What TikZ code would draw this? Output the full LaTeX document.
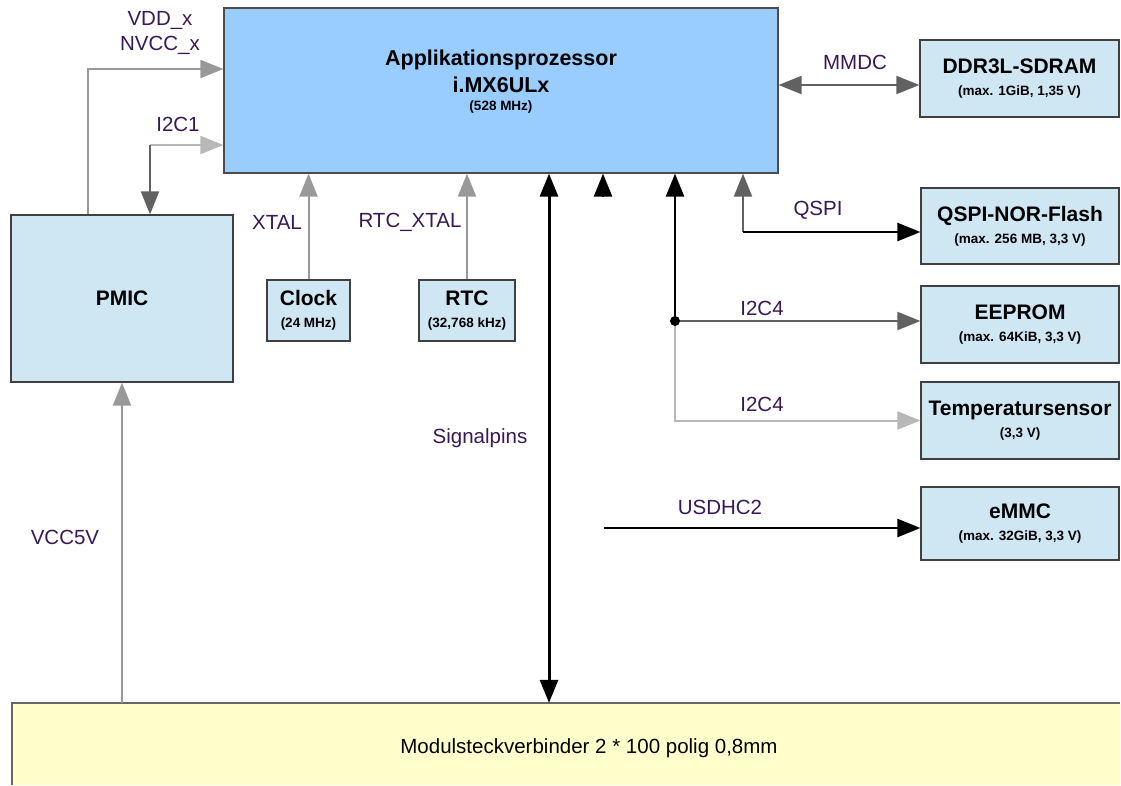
\documentclass[tikz,border=0pt]{standalone}
\usepackage{fontspec}
\setmainfont{Liberation Sans}
\usetikzlibrary{arrows.meta,positioning,calc}
\definecolor{procblau}{HTML}{99CCFF}
\definecolor{boxblau}{HTML}{CFE6F3}
\definecolor{steckgelb}{HTML}{FFFFCC}
\definecolor{beschr}{RGB}{55,25,85}
\newcommand{\unter}[1]{{\fontsize{13.5}{15}\selectfont #1}}

\begin{document}
\begin{tikzpicture}[x=1pt,y=-1pt,
  >={Triangle[length=23pt,width=18pt]},
  block/.style={draw=black!75, line width=1.2pt, fill=boxblau, align=center, inner sep=0pt,
    font=\fontsize{21}{22}\selectfont\bfseries},
  titel/.style={align=center, inner sep=0pt, font=\fontsize{21.5}{23}\selectfont\bfseries},
  bez/.style={text=beschr, inner sep=0pt, align=center, font=\fontsize{20.5}{25}\selectfont},
  grau/.style={draw=black!40, line width=2pt},
  hell/.style={draw=black!28, line width=2pt},
  mittel/.style={draw=black!62, line width=2pt},
  schwarz/.style={draw=black, line width=2.5pt}]
\useasboundingbox (0,0) rectangle (1121,785);

% Prozessor und Bausteine
\node[block, fill=procblau, draw=black!70, minimum width=554, minimum height=165] (proc) at (501,90.5) {};
\node[titel] (proctitel) at (501,82) {Applikationsprozessor\\[4pt]i.MX6ULx\\[-5pt]\unter{(528 MHz)}};
\node[block, minimum width=222, minimum height=167] (pmic) at (122,298.5) {PMIC};
\node[block, minimum width=83, minimum height=61] (clock) at (308.5,310.5) {Clock\\\unter{(24 MHz)}};
\node[block, minimum width=96, minimum height=61] (rtc) at (467,310.5) {RTC\\\unter{(32,768 kHz)}};
\node[block, minimum width=199, minimum height=77] (ddr) at (1019.5,78.5) {DDR3L-SDRAM\\\unter{(max. 1GiB, 1,35 V)}};
\node[block, minimum width=198, minimum height=76] (qspi) at (1020,226) {QSPI-NOR-Flash\\\unter{(max. 256 MB, 3,3 V)}};
\node[block, minimum width=198, minimum height=77] (eeprom) at (1020,324.5) {EEPROM\\\unter{(max. 64KiB, 3,3 V)}};
\node[block, minimum width=198, minimum height=77] (temp) at (1020,420.5) {Temperatursensor\\\unter{(3,3 V)}};
\node[block, minimum width=198, minimum height=73] (emmc) at (1020,523.5) {eMMC\\\unter{(max. 32GiB, 3,3 V)}};

% Steckverbinder
\node[fill=steckgelb, minimum width=1108, minimum height=82, inner sep=0pt] (conn) at (566,744) {};
\draw[draw=black!60, line width=1.5pt] (conn.south west) |- (conn.north east);
\node[inner sep=0pt, font=\fontsize{20.5}{22}\selectfont] (conntxt) at (589,748) {Modulsteckverbinder 2 * 100 polig 0,8mm};

% Versorgung
\draw[grau, ->] (pmic.north -| 88,0) |- (proc.west |- 0,69);
\node[bez] (vdd) at (160,33) {VDD\_x\\NVCC\_x};
\draw[grau, ->] (conn.north -| pmic.south) -- (pmic.south);
\node[bez] (vcc) at (65,537) {VCC5V};

% I2C1
\coordinate (i2ceins) at (150,145);
\draw[hell, ->] (i2ceins) -- (proc.west |- i2ceins);
\draw[mittel, ->] (i2ceins) -- (pmic.north -| i2ceins);
\node[bez] (i2c1) at (178,124) {I2C1};

% Takt
\draw[grau, ->] (clock.north) -- (clock.north |- proc.south);
\node[bez] (xtal) at (277,222) {XTAL};
\draw[grau, ->] (rtc.north) -- (rtc.north |- proc.south);
\node[bez] (rtcxtal) at (410,222) {RTC\_XTAL};

% Signalpins
\draw[schwarz, line width=3pt, <->] ([xshift=48pt]proc.south) -- ([xshift=48pt]proc.south |- conn.north);
\node[bez] (sig) at (480,438) {Signalpins};

% USDHC2
\coordinate (sdkopf) at (603,197);
\draw[schwarz, ->] (sdkopf) -- (proc.south -| sdkopf);
\coordinate (sdstart) at (604,528);
\draw[schwarz, ->] (sdstart) -- (emmc.west |- sdstart);
\node[bez] (usdhc) at (720,507) {USDHC2};

% I2C4
\coordinate (knoten) at (675,321);
\draw[schwarz, ->] (knoten) -- (knoten |- proc.south);
\draw[mittel, ->] (knoten) -- (eeprom.west |- knoten);
\draw[hell, ->] (knoten) |- (temp.west);
\fill (knoten) circle (5);
\node[bez] (i2cvier) at (762,308) {I2C4};
\node[bez] (i2cvierb) at (762,404) {I2C4};

% QSPI
\coordinate (qs) at (743,232);
\draw[mittel, ->] (qs) -- (qs |- proc.south);
\draw[schwarz, ->] (qs) -- (qspi.west |- qs);
\node[bez] (qspil) at (818,210) {QSPI};

% MMDC
\draw[mittel, <->] (proc.east |- 0,85) -- (ddr.west |- 0,85);
\node[bez] (mmdc) at (855,62) {MMDC};
\end{tikzpicture}
\end{document}
